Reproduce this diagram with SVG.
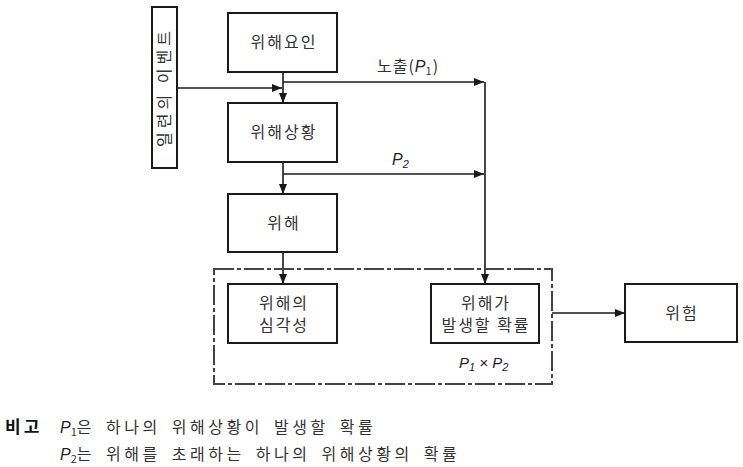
<svg xmlns="http://www.w3.org/2000/svg" width="743" height="467" viewBox="0 0 743 467">
<style>
.box{fill:#fff;stroke:#1a1a1a;stroke-width:2}
.ln{fill:none;stroke:#1a1a1a;stroke-width:1.6}
.t{font-family:"Noto Sans CJK KR","Noto Sans",sans-serif;font-size:16px;letter-spacing:2px;fill:#333;text-anchor:middle}
.i{font-family:"Liberation Sans",Arial,sans-serif;font-style:italic;font-size:16px;letter-spacing:0;fill:#222}
.n{font-family:"Noto Sans CJK KR","Noto Sans",sans-serif;font-size:16px;fill:#333}
.sub{font-size:11px}
.note{letter-spacing:3.5px;word-spacing:4px}
</style>
<defs>
<marker id="ah" viewBox="0 0 10 8" refX="10" refY="4" markerWidth="10" markerHeight="8" markerUnits="userSpaceOnUse" orient="auto">
<path d="M0,0 L10,4 L0,8 Z" fill="#1a1a1a"/>
</marker>
</defs>
<rect width="743" height="467" fill="#fff"/>
<g id="connectors">
<line class="ln" x1="178" y1="88" x2="282" y2="88" marker-end="url(#ah)"/>
<line class="ln" x1="283" y1="72" x2="283" y2="103" marker-end="url(#ah)"/>
<line class="ln" x1="283" y1="82" x2="484" y2="82" marker-end="url(#ah)"/>
<line class="ln" x1="283" y1="162" x2="283" y2="194" marker-end="url(#ah)"/>
<line class="ln" x1="283" y1="174" x2="484" y2="174" marker-end="url(#ah)"/>
<line class="ln" x1="485" y1="82" x2="485" y2="284" marker-end="url(#ah)"/>
<line class="ln" x1="283" y1="252" x2="283" y2="284" marker-end="url(#ah)"/>
<line class="ln" x1="552" y1="313" x2="625" y2="313" marker-end="url(#ah)"/>
<text class="n" x="377" y="72" style="letter-spacing:1px">노출(<tspan class="i">P</tspan><tspan class="sub" dy="3">1</tspan><tspan dy="-3">)</tspan></text>
<text class="i" x="392" y="165">P<tspan class="sub" dy="3">2</tspan></text>
</g>
<g id="events">
<rect class="box" x="152" y="7" width="25" height="161"/>
<text class="t" transform="translate(165,87) rotate(-90)" y="5" style="letter-spacing:4px">일련의 이벤트</text>
</g>
<g id="hazard-source">
<rect class="box" x="228" y="13" width="109" height="59"/>
<text class="t" x="284" y="48">위해요인</text>
</g>
<g id="hazard-situation">
<rect class="box" x="228" y="103" width="109" height="59"/>
<text class="t" x="284" y="138">위해상황</text>
</g>
<g id="harm">
<rect class="box" x="228" y="194" width="109" height="58"/>
<text class="t" x="284" y="229">위해</text>
</g>
<g id="risk-group">
<rect x="214" y="269" width="338" height="115" fill="none" stroke="#444" stroke-width="2" stroke-dasharray="20,3,4,3"/>
</g>
<g id="severity">
<rect class="box" x="228" y="284" width="109" height="59"/>
<text class="t" x="284" y="309">위해의</text>
<text class="t" x="284" y="331">심각성</text>
</g>
<g id="probability">
<rect class="box" x="431" y="284" width="108" height="59"/>
<text class="t" x="486" y="309">위해가</text>
<text class="t" x="486" y="331">발생할 확률</text>
<text class="i" x="459" y="368" style="font-size:15px">P<tspan class="sub" dy="3">1</tspan><tspan dy="-3"> × P</tspan><tspan class="sub" dy="3">2</tspan></text>
</g>
<g id="risk">
<rect class="box" x="625" y="284" width="112" height="58"/>
<text class="t" x="682" y="319">위험</text>
</g>
<g id="note">
<text class="n" x="5" y="433" style="font-weight:bold;font-size:17px;letter-spacing:3px;fill:#111">비고</text>
<text class="n note" x="60" y="433"><tspan class="i">P</tspan><tspan class="sub" dy="3" style="letter-spacing:0">1</tspan><tspan dy="-3">은 하나의 위해상황이 발생할 확률</tspan></text>
<text class="n note" x="60" y="460"><tspan class="i">P</tspan><tspan class="sub" dy="3" style="letter-spacing:0">2</tspan><tspan dy="-3">는 위해를 초래하는 하나의 위해상황의 확률</tspan></text>
</g>
</svg>
